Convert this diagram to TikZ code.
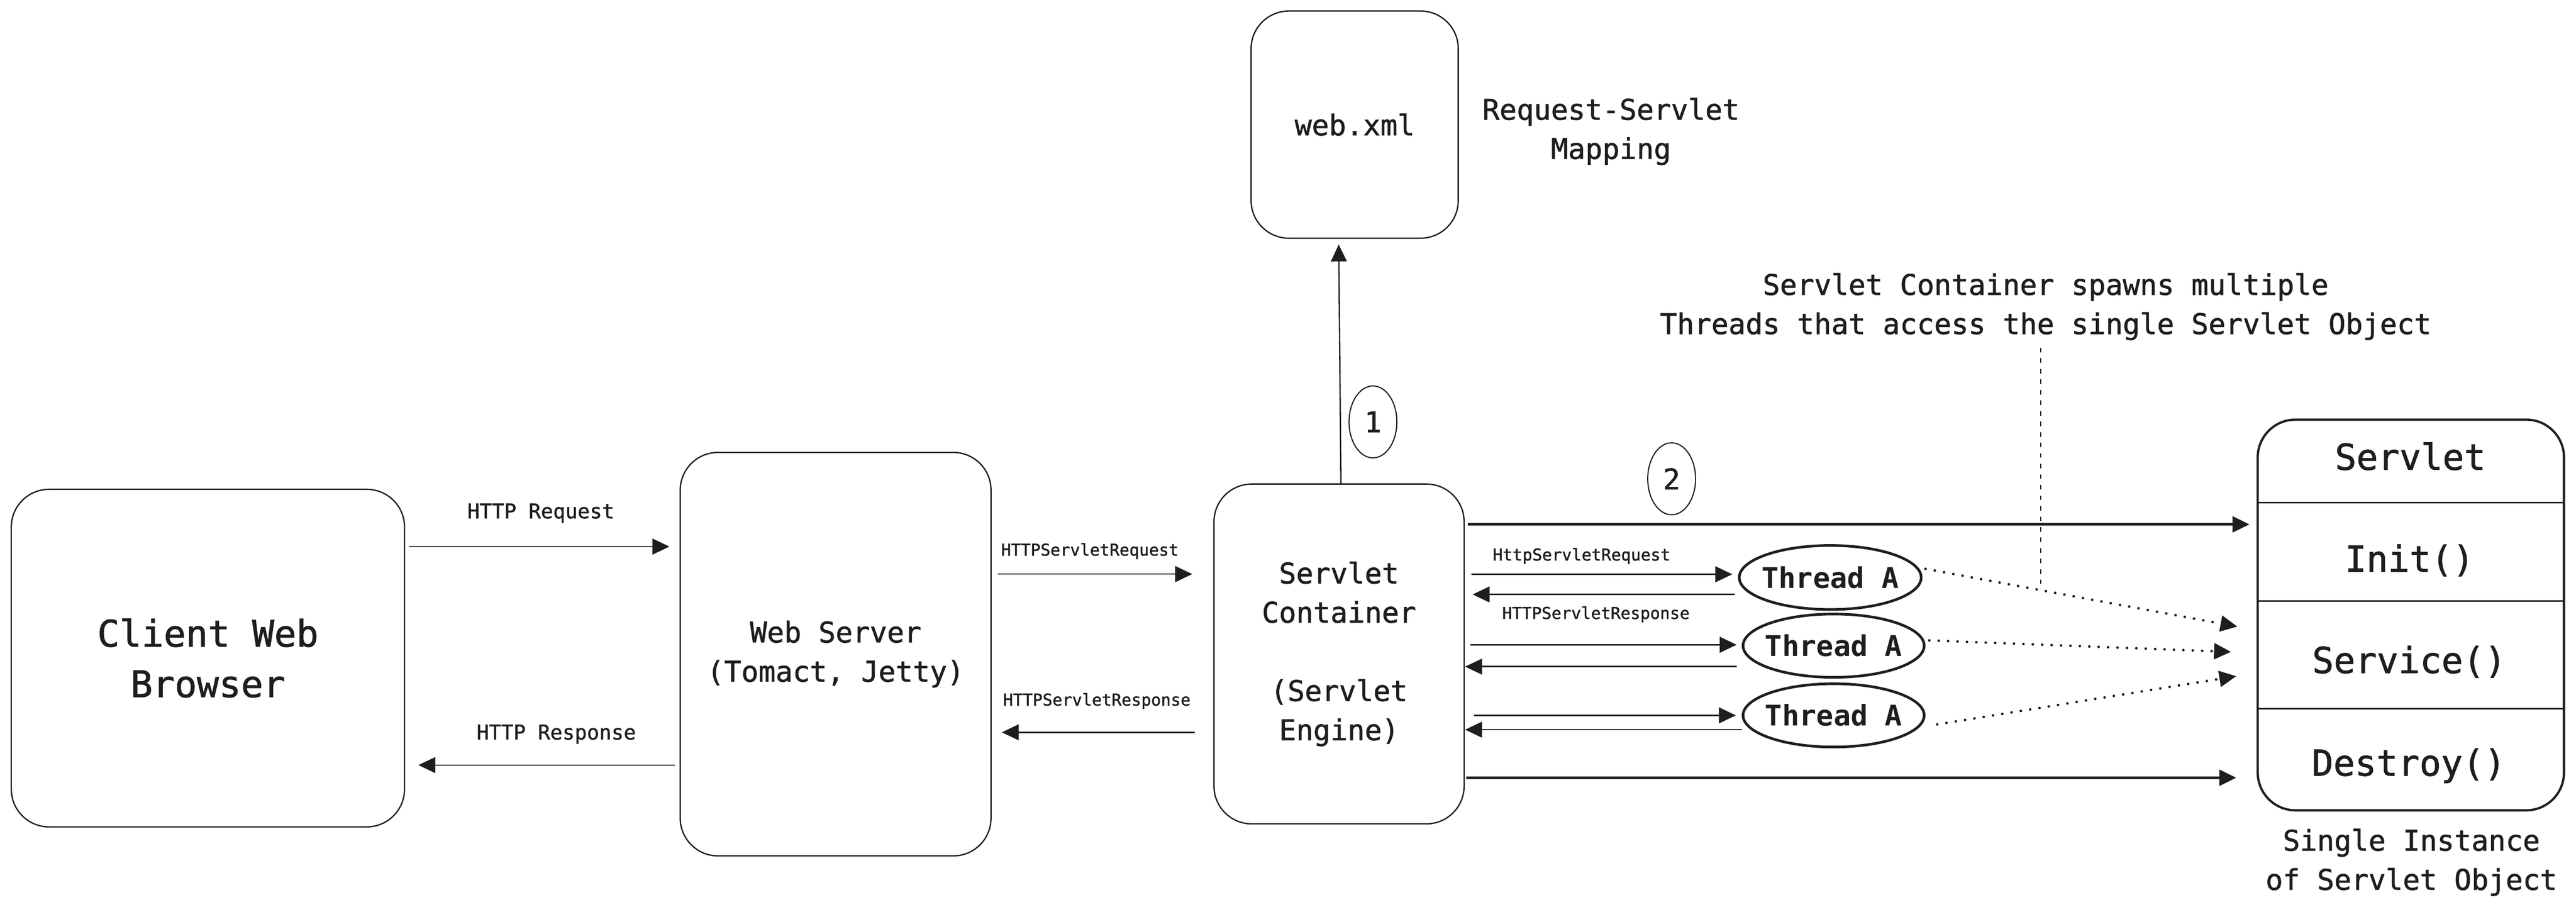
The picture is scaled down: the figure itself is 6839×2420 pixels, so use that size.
\documentclass[tikz,border=0pt]{standalone}
\usepackage{fontspec}
\newfontfamily\hand[FakeBold=1.3]{DejaVu Sans Mono}
\newfontfamily\handbold{DejaVu Sans Mono Bold}
\usetikzlibrary{arrows.meta,shapes.geometric,calc}
\definecolor{ink}{RGB}{30,30,30}
\begin{document}
\begin{tikzpicture}[x=1pt,y=-1pt,
  box/.style={draw=ink, line width=3.5pt, rounded corners=100pt, inner sep=0pt, align=center, text=ink},
  fbig/.style={font=\hand\fontsize{97.5pt}{134pt}\selectfont},
  fmid/.style={font=\hand\fontsize{75.6pt}{104pt}\selectfont},
  fthr/.style={font=\handbold\fontsize{75.6pt}{104pt}\selectfont},
  fsec/.style={font=\hand\fontsize{95pt}{130pt}\selectfont},
  fsmall/.style={font=\hand\fontsize{54pt}{70pt}\selectfont},
  ftiny/.style={font=\hand\fontsize{43.5pt}{56pt}\selectfont},
  txt/.style={inner sep=0pt, text=ink, align=center},
  conn/.style={draw=ink, line width=3.5pt, -{Triangle[length=45pt,width=42pt]}},
  heavy/.style={conn, line width=7pt},
  dots/.style={draw=ink, line width=7pt, line cap=round, dash pattern=on 0pt off 25pt, -{Triangle[length=45pt,width=42pt]}},
  oval/.style={draw=ink, ellipse, inner sep=0pt, text=ink},
  divider/.style={draw=ink, line width=4pt}
]
\useasboundingbox (0,0) rectangle (6839,2420);

% main boxes
\node[box, fbig, minimum width=1044pt, minimum height=896pt] (client) at (552,1747) {Client Web\\Browser};
\node[box, fmid, minimum width=825pt, minimum height=1071pt] (webserver) at (2218.5,1736.5) {Web Server\\(Tomact, Jetty)};
\node[box, fmid, minimum width=664pt, minimum height=902pt] (container) at (3555,1736) {Servlet\\Container\\[104pt](Servlet\\Engine)};
\node[box, fmid, minimum width=550pt, minimum height=603pt] (webxml) at (3596.5,330.8) {web.xml};

% free texts
\node[txt, fmid] (mapping) at (4277,349) {Request-Servlet\\Mapping};
\node[txt, fmid] (annot) at (5431,814) {Servlet Container spawns multiple\\Threads that access the single Servlet Object};
\node[txt, fmid] (single) at (6402,2289) {Single Instance\\of Servlet Object};

% servlet object
\node[draw=ink, line width=6pt, rounded corners=100pt, inner sep=0pt, minimum width=813pt, minimum height=1037pt] (servlet) at (6400.5,1632.5) {};
\draw[divider] (servlet.west |- 0,1334) -- (servlet.east |- 0,1334);
\draw[divider] (servlet.west |- 0,1596) -- (servlet.east |- 0,1596);
\draw[divider] (servlet.west |- 0,1882) -- (servlet.east |- 0,1882);
\node[txt, fsec, anchor=base] (sname) at (6399,1247) {Servlet};
\node[txt, fsec, anchor=base] (sinit) at (6397,1517.5) {Init()};
\node[txt, fsec, anchor=base] (sservice) at (6396,1786.6) {Service()};
\node[txt, fsec, anchor=base] (sdestroy) at (6395,2059) {Destroy()};

% step markers
\node[oval, line width=3pt, fmid, minimum width=127pt, minimum height=191pt] (one) at (3645,1120) {1};
\node[oval, line width=3pt, fmid, minimum width=127pt, minimum height=191pt] (two) at (4438,1271) {2};

% threads
\node[oval, line width=7pt, fthr, minimum width=483pt, minimum height=170pt] (t1) at (4859,1533) {\makebox[0pt][c]{Thread A}};
\node[oval, line width=7pt, fthr, minimum width=481pt, minimum height=168pt] (t2) at (4868,1714) {\makebox[0pt][c]{Thread A}};
\node[oval, line width=7pt, fthr, minimum width=481pt, minimum height=168pt] (t3) at (4868,1899) {\makebox[0pt][c]{Thread A}};

% client <-> web server
\draw[conn, shorten <=10pt, shorten >=27pt] (client.east |- 0,1451) -- (webserver.west |- 0,1451);
\node[txt, fsmall, anchor=base] (lhreq) at (1436,1376) {HTTP Request};
\draw[conn, shorten <=13pt, shorten >=35pt] (webserver.west |- 0,2031) -- (client.east |- 0,2031);
\node[txt, fsmall, anchor=base] (lhres) at (1477,1963) {HTTP Response};

% web server <-> container
\draw[conn, shorten <=17pt, shorten >=56pt] (webserver.east |- 0,1524) -- (container.west |- 0,1524);
\node[txt, ftiny, anchor=base] (lsreq) at (2893.5,1475) {HTTPServletRequest};
\draw[conn, shorten <=49pt, shorten >=27pt] (container.west |- 0,1944) -- (webserver.east |- 0,1944);
\node[txt, ftiny, anchor=base] (lsres) at (2912,1873) {HTTPServletResponse};

% container -> web.xml
\draw[conn, shorten >=15pt] (3560,0 |- container.north) -- (3554,0 |- webxml.south);

% container -> servlet (init / destroy)
\draw[heavy, shorten <=8pt, shorten >=19pt] (container.east |- 0,1392) -- (servlet.west |- 0,1392);
\draw[heavy, shorten <=4pt, shorten >=54pt] (container.east |- 0,2064.6) -- (servlet.west |- 0,2064.6);

% container <-> threads
\draw[conn, shorten <=18pt, shorten >=15pt] (container.east |- 0,1524.5) -- (t1.west |- 0,1524.5);
\draw[conn, shorten <=8pt, shorten >=21pt] (t1.west |- 0,1578) -- (container.east |- 0,1578);
\node[txt, ftiny, anchor=base] (ltreq) at (4199,1488) {HttpServletRequest};
\node[txt, ftiny, anchor=base] (ltres) at (4237,1643) {HTTPServletResponse};
\draw[conn, shorten <=15pt, shorten >=13.5pt] (container.east |- 0,1711.6) -- (t2.west |- 0,1711.6);
\draw[conn, shorten <=13.5pt, shorten >=1pt] (t2.west |- 0,1769.6) -- (container.east |- 0,1769.6);
\draw[conn, shorten <=24pt, shorten >=15.5pt] (container.east |- 0,1899) -- (t3.west |- 0,1899);
\draw[conn, shorten >=1pt] (t3.west |- 0,1937) -- (container.east |- 0,1937);

% threads -> service (dotted)
\draw[dots] ([xshift=8pt,yshift=23pt]t1.east) -- ($(servlet.west |- 0,1663.4)+(-51,0)$);
\draw[dots] ([xshift=10pt,yshift=14pt]t2.east) -- ($(servlet.west |- 0,1730.5)+(-68,0)$);
\draw[dots] ([xshift=31pt,yshift=-24pt]t3.east) -- ($(servlet.west |- 0,1795)+(-54,0)$);

% annotation pointer
\coordinate (jn) at (5418,1550);
\draw[draw=ink, line width=3.5pt, dash pattern=on 12pt off 16pt, shorten <=20pt] (annot.south -| jn) -- (jn);
\end{tikzpicture}
\end{document}
